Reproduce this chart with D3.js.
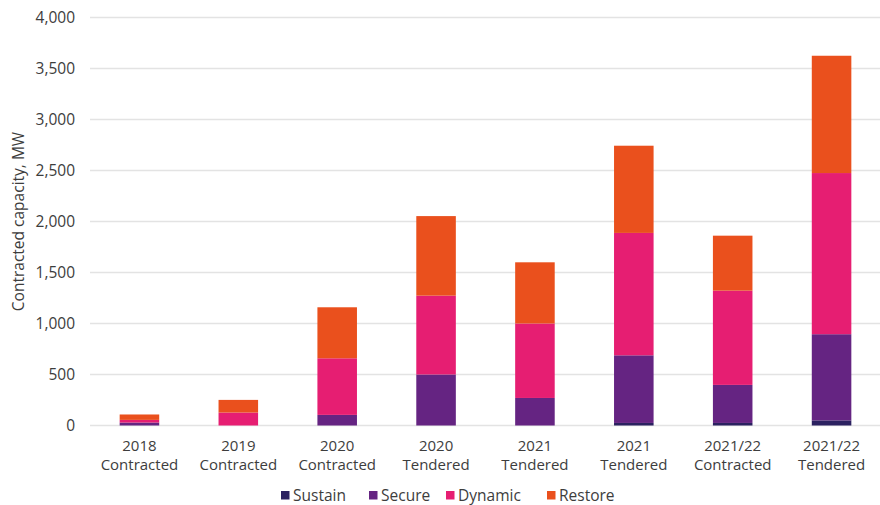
<!DOCTYPE html>
<html>
<head>
<meta charset="utf-8">
<script src="https://cdn.jsdelivr.net/npm/d3@7"></script>
<style>
  html, body { margin: 0; padding: 0; background: #fff; }
  body { width: 880px; height: 505px; overflow: hidden; font-family: "Open Sans", Lato, sans-serif; }
  .tick text, .cat-label, .legend-label, .y-title { fill: #3d3d3d; font-size: 15.5px; font-family: "Open Sans", Lato, sans-serif; }
  .cat-label { font-size: 15px; }
  .gridline { stroke: #e3e3e3; stroke-width: 1.5; }
</style>
</head>
<body>
<div id="chart"></div>
<script>
// Contracted capacity by service (MW)
const CATEGORIES = [
  ["2018", "Contracted"], ["2019", "Contracted"], ["2020", "Contracted"], ["2020", "Tendered"],
  ["2021", "Tendered"], ["2021", "Tendered"], ["2021/22", "Contracted"], ["2021/22", "Tendered"]
];
const SERIES = ["Sustain", "Secure", "Dynamic", "Restore"];
const SUSTAIN = [0, 0, 0, 0, 0, 25, 25, 50];
const SECURE  = [29, 0, 104, 500, 270, 663, 373, 845];
const DYNAMIC = [26, 127, 555, 773, 730, 1200, 924, 1580];
const RESTORE = [53, 124, 500, 780, 600, 855, 539, 1150];
const Y_TICKS = [0, 500, 1000, 1500, 2000, 2500, 3000, 3500, 4000];

const COLORS = {
  Sustain: "#2b2160",
  Secure:  "#652482",
  Dynamic: "#e61e72",
  Restore: "#ea501d",
};

const rows = CATEGORIES.map((c, i) => ({
  key: i, label: c,
  Sustain: SUSTAIN[i], Secure: SECURE[i], Dynamic: DYNAMIC[i], Restore: RESTORE[i],
}));

const width = 880, height = 505;
const plot = { left: 90, right: 881, top: 17.5, bottom: 425.5 };

const svg = d3.select("#chart").append("svg")
  .attr("width", width).attr("height", height);

const x = d3.scaleBand()
  .domain(rows.map(d => d.key))
  .range([plot.left, plot.right])
  .paddingInner(0.6)
  .paddingOuter(0.3);

const y = d3.scaleLinear()
  .domain([0, 4000])
  .range([plot.bottom, plot.top]);

// Gridlines
svg.append("g")
  .selectAll("line")
  .data(Y_TICKS)
  .join("line")
    .attr("class", "gridline")
    .attr("x1", plot.left).attr("x2", 880)
    .attr("y1", d => y(d)).attr("y2", d => y(d));

// Y axis (labels only)
const yAxis = svg.append("g")
  .attr("transform", `translate(${plot.left},0)`)
  .call(d3.axisLeft(y).tickValues(Y_TICKS).tickFormat(d3.format(",")).tickSize(0).tickPadding(15));
yAxis.select(".domain").remove();
yAxis.selectAll("text")
  .attr("font-family", "'Open Sans', Lato, sans-serif")
  .attr("font-size", 15.5).attr("fill", "#3d3d3d");

svg.append("text")
  .attr("class", "y-title")
  .attr("transform", `translate(24,${(plot.top + plot.bottom) / 2}) rotate(-90)`)
  .attr("text-anchor", "middle")
  .text("Contracted capacity, MW");

// Stacked bars
const stack = d3.stack().keys(SERIES)(rows);

svg.append("g")
  .selectAll("g")
  .data(stack)
  .join("g")
    .attr("fill", d => COLORS[d.key])
  .selectAll("rect")
  .data(d => d)
  .join("rect")
    .attr("x", d => x(d.data.key))
    .attr("width", x.bandwidth())
    .attr("y", d => y(d[1]))
    .attr("height", d => y(d[0]) - y(d[1]));

// Category labels (two lines)
const cat = svg.append("g")
  .selectAll("text")
  .data(rows)
  .join("text")
    .attr("class", "cat-label")
    .attr("text-anchor", "middle")
    .attr("x", d => x(d.key) + x.bandwidth() / 2)
    .attr("y", 450.5);
cat.append("tspan").text(d => d.label[0]);
cat.append("tspan")
  .attr("x", d => x(d.key) + x.bandwidth() / 2)
  .attr("dy", 19)
  .text(d => d.label[1]);

// Legend
const legendX = [281, 369, 446, 547];
const legend = svg.append("g")
  .selectAll("g")
  .data(SERIES)
  .join("g")
    .attr("transform", (d, i) => `translate(${legendX[i]},0)`);
legend.append("rect")
  .attr("y", 491).attr("width", 8.5).attr("height", 8.5)
  .attr("fill", d => COLORS[d]);
legend.append("text")
  .attr("class", "legend-label")
  .attr("x", 12).attr("y", 500.5)
  .text(d => d);
</script>
</body>
</html>
